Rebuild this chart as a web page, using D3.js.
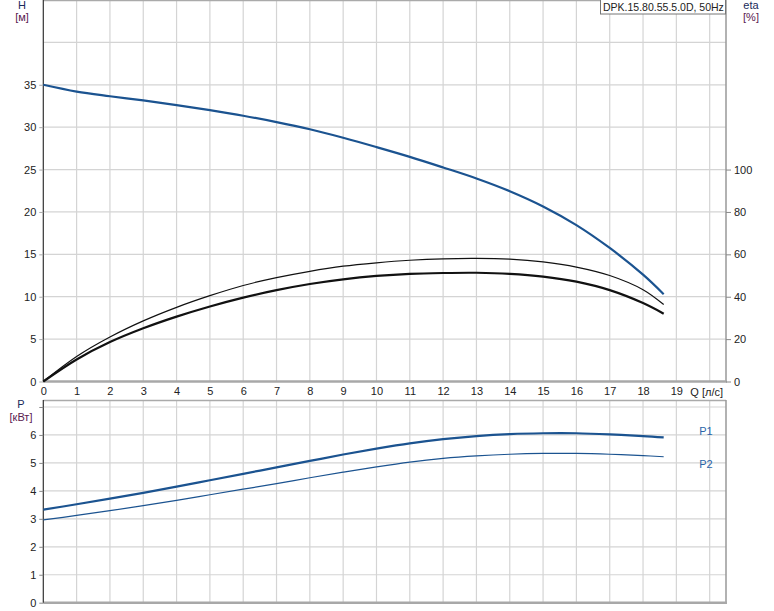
<!DOCTYPE html>
<html><head><meta charset="utf-8">
<script src="https://cdn.jsdelivr.net/npm/d3@7"></script>
<style>body{margin:0;background:#fff}svg{display:block;font-family:"Liberation Sans",Arial,sans-serif}</style>
</head><body><svg id="c" width="774" height="611"></svg>
<script>
const qValues = [0,1,2,3,4,5,6,7,8,9,10,11,12,13,14,15,16,17,18,18.62];
const headH = [35,34.2,33.65,33.15,32.6,32.0,31.35,30.6,29.75,28.75,27.65,26.5,25.25,23.95,22.45,20.65,18.45,15.75,12.6,10.3];
const etaThin = [0,11.8,21.0,28.6,35.0,40.5,45.3,49.0,52.0,54.4,56.0,57.2,57.9,58.1,57.7,56.4,54.0,50.0,43.3,36.3];
const etaThick = [0,10.4,18.6,25.1,30.6,35.4,39.6,43.1,46.0,48.2,49.8,50.8,51.2,51.3,50.8,49.5,47.1,43.1,37.0,32.0];
const powerP1 = [3.33,3.52,3.72,3.93,4.15,4.38,4.61,4.84,5.07,5.30,5.51,5.70,5.85,5.96,6.03,6.06,6.06,6.02,5.96,5.91];
const powerP2 = [2.96,3.12,3.29,3.47,3.66,3.86,4.06,4.26,4.47,4.67,4.86,5.03,5.16,5.25,5.31,5.34,5.34,5.31,5.26,5.22];
const qTicks = [0,1,2,3,4,5,6,7,8,9,10,11,12,13,14,15,16,17,18,19];
const qGrid = [1,2,3,4,5,6,7,8,9,10,11,12,13,14,15,16,17,18,19,20];
const hTicks = [0,5,10,15,20,25,30,35];
const hGrid = [5,10,15,20,25,30,35,40];
const etaTicks = [0,20,40,60,80,100];
const pTicks = [0,1,2,3,4,5,6,7];
const title = "DPK.15.80.55.5.0D, 50Hz";

const svg = d3.select("#c");
const L = 43.3, R = 726;
const x = d3.scaleLinear().domain([0, 20.49]).range([L, R]);
const yH = d3.scaleLinear().domain([0, 45]).range([381.5, 0]);
const yEta = d3.scaleLinear().domain([0, 180]).range([381.5, 0]);
const yP = d3.scaleLinear().domain([0, 7.25]).range([602.7, 400]);

const gridCol = "#d4d4d4", txt = "#222";

function panel(yScale, yGridVals, top, bottom) {
  const g = svg.append("g");
  g.selectAll(".vg").data(qGrid).join("line")
    .attr("x1", d => x(d)).attr("x2", d => x(d))
    .attr("y1", top).attr("y2", bottom)
    .attr("stroke", gridCol).attr("stroke-width", 1.2);
  g.selectAll(".hg").data(yGridVals).join("line")
    .attr("x1", L).attr("x2", R)
    .attr("y1", d => yScale(d)).attr("y2", d => yScale(d))
    .attr("stroke", gridCol).attr("stroke-width", 1.2);
  g.append("line").attr("x1", L).attr("x2", R).attr("y1", top + 0.5).attr("y2", top + 0.5).attr("stroke", "#aaa").attr("stroke-width", 1.5);
  g.append("line").attr("x1", R).attr("x2", R).attr("y1", top).attr("y2", bottom).attr("stroke", "#999").attr("stroke-width", 1.5);
  g.append("line").attr("x1", L).attr("x2", R + 1).attr("y1", bottom).attr("y2", bottom).attr("stroke", "#a8a8a8").attr("stroke-width", 2.5);
  g.append("line").attr("x1", L).attr("x2", L).attr("y1", top).attr("y2", bottom).attr("stroke", "#333").attr("stroke-width", 1.2);
}

panel(yH, hGrid, 0, 381.5);
panel(yP, [1,2,3,4,5,6,7], 400, 602.7);

const axH = svg.append("g").attr("transform", `translate(${L},0)`)
  .call(d3.axisLeft(yH).tickValues(hTicks).tickSize(4).tickPadding(3));
axH.select(".domain").remove();
axH.selectAll("line").attr("stroke", "#aaa");
axH.selectAll("text").attr("fill", txt).style("font-size", "11px");

const axE = svg.append("g").attr("transform", `translate(${R},0)`)
  .call(d3.axisRight(yEta).tickValues(etaTicks).tickSize(5).tickPadding(3));
axE.select(".domain").remove();
axE.selectAll("line").attr("stroke", "#888");
axE.selectAll("text").attr("fill", txt).style("font-size", "11px");

const axQ = svg.append("g").attr("transform", `translate(0,381.5)`)
  .call(d3.axisBottom(x).tickValues(qTicks).tickSize(0).tickPadding(6).tickFormat(d3.format("d")));
axQ.select(".domain").remove();
axQ.selectAll("text").attr("fill", txt).style("font-size", "11px");
svg.append("text").attr("x", x(20) - 3).attr("y", 396).attr("text-anchor", "middle")
  .attr("fill", txt).style("font-size", "11px").text("Q [л/с]");

const axP = svg.append("g").attr("transform", `translate(${L},0)`)
  .call(d3.axisLeft(yP).tickValues(pTicks).tickSize(4).tickPadding(3)
    .tickFormat(d => d === 7 ? "" : d));
axP.select(".domain").remove();
axP.selectAll("line").attr("stroke", "#888");
axP.selectAll("text").attr("fill", txt).style("font-size", "11px");

function lbl(xp, yp, t, col, anchor) {
  svg.append("text").attr("x", xp).attr("y", yp).attr("text-anchor", anchor || "middle")
    .attr("fill", col).style("font-size", "11px").text(t);
}
lbl(22, 9, "H", "#1a2a5a");
lbl(22, 21, "[м]", "#5a2050");
lbl(751, 9, "eta", "#1a2a5a");
lbl(751, 21, "[%]", "#5a2050");
lbl(21, 408, "P", "#1a2a5a");
lbl(21, 421, "[кВт]", "#5a2050");

svg.append("rect").attr("x", 600.5).attr("y", -0.5).attr("width", 125).attr("height", 14.5)
  .attr("fill", "#fff").attr("stroke", "#777").attr("stroke-width", 1);
svg.append("text").attr("x", 603).attr("y", 10.5).attr("fill", txt).style("font-size", "10.5px").text(title);

const idx = d3.range(qValues.length);
const curve = d3.curveCatmullRom.alpha(0.5);
function draw(yScale, vals, col, w) {
  svg.append("path").datum(idx)
    .attr("d", d3.line().x(i => x(qValues[i])).y(i => yScale(vals[i])).curve(curve))
    .attr("fill", "none").attr("stroke", col).attr("stroke-width", w);
}
draw(yEta, etaThin, "#111", 1.2);
draw(yEta, etaThick, "#111", 2.2);
draw(yH, headH, "#1b5390", 2.2);
draw(yP, powerP1, "#1b5390", 2.2);
draw(yP, powerP2, "#1b5390", 1.2);

lbl(706, 435, "P1", "#2a64a8");
lbl(706, 468, "P2", "#2a64a8");
</script></body></html>
